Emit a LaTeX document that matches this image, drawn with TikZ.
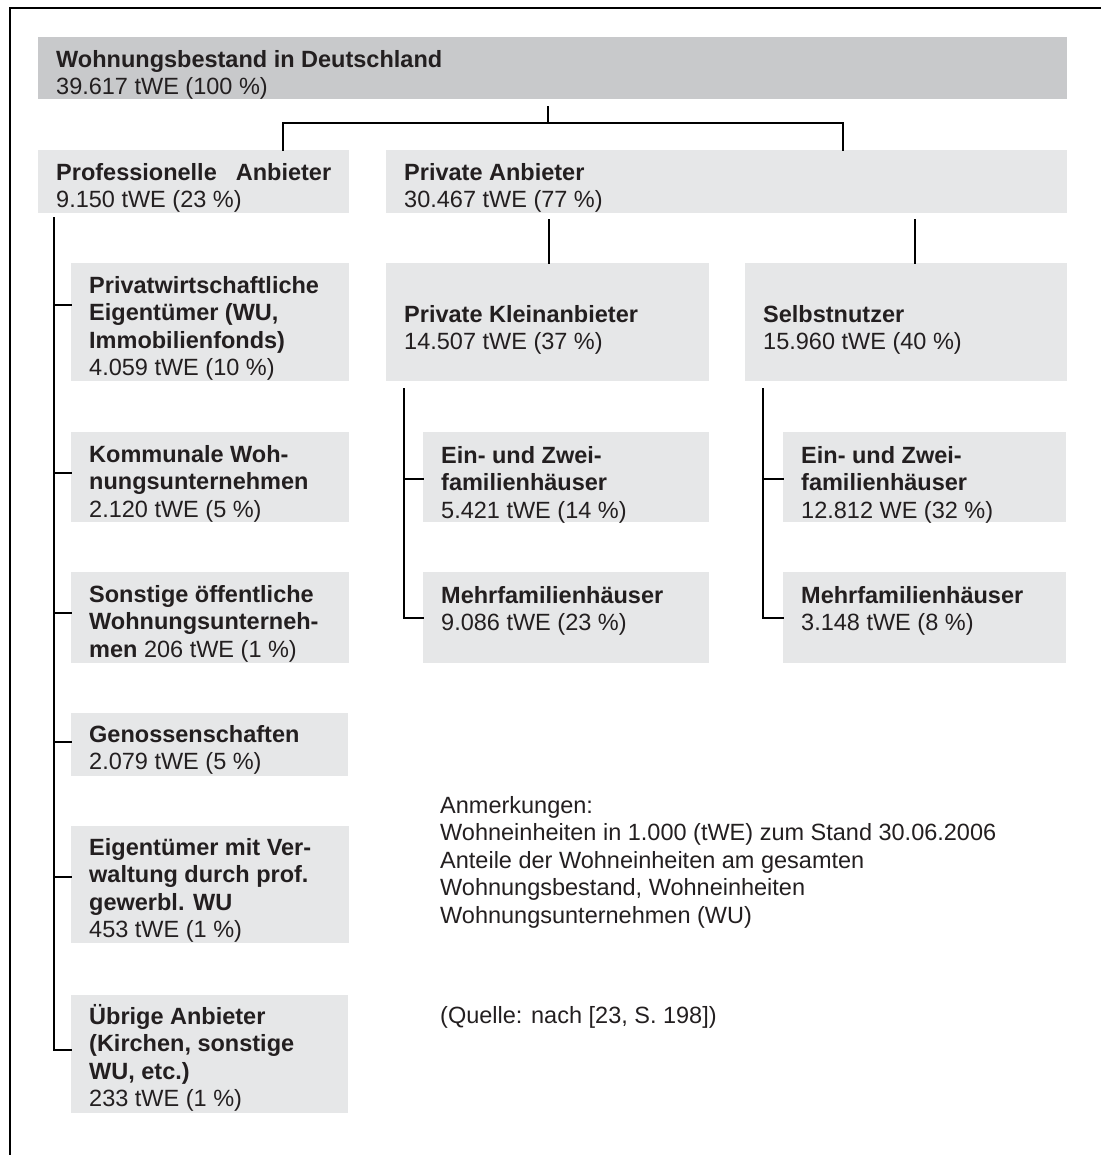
\documentclass[tikz,border=0pt]{standalone}
\usepackage{fontspec}
\setmainfont{Liberation Sans}
\definecolor{boxdark}{RGB}{200,201,203}
\definecolor{boxlight}{RGB}{230,231,232}
\definecolor{txtgray}{RGB}{35,31,32}
\usetikzlibrary{positioning, calc}
\newcommand{\entry}[4]{%
	\hspace*{18pt}\parbox[c][#2pt][t]{\dimexpr #1pt-18pt\relax}{\raggedright\rule{0pt}{#3pt}#4}%
}

\begin{document}
\begin{tikzpicture}[x=1pt, y=-1pt, every node/.append style={inner sep=0pt, anchor=north west, text=txtgray, font=\fontsize{23.5pt}{27.5pt}\selectfont}, entrybox/.style={fill=boxlight}, conn/.style={draw=black, line width=1.6pt, line cap=rect}]
	\useasboundingbox (0,0) rectangle (1101,1155);
	\draw[line width=1.3pt] (10,1155) -- (10,8) -- (1101,8);
	\node[fill=boxdark] (bestand) at (38,37) {\entry{1029}{62}{30}{\textbf{Wohnungsbestand in Deutschland}\\39.617 tWE (100 \%)}};
	\node[entrybox] (prof) at (38,150) {\entry{311}{63}{30}{\textbf{Professionelle\hspace{19pt}Anbieter}\\9.150 tWE (23 \%)}};
	\node[entrybox] (priv) at (386,150) {\entry{681}{63}{30}{\textbf{Private Anbieter}\\30.467 tWE (77 \%)}};
	\node[entrybox] (pw) at (71,263) {\entry{278}{118}{30}{\textbf{Privatwirtschaftliche\\Eigentümer (WU,\\Immobilienfonds)}\\4.059 tWE (10 \%)}};
	\node[entrybox] (kom) at (71,432) {\entry{278}{90}{30}{\textbf{Kommunale Woh-\\nungsunternehmen}\\2.120 tWE (5 \%)}};
	\node[entrybox] (son) at (71,572) {\entry{278}{91}{30}{\textbf{Sonstige öffentliche\\Wohnungsunterneh-\\men} 206 tWE (1 \%)}};
	\node[entrybox] (gen) at (71,713) {\entry{277}{63}{29}{\textbf{Genossenschaften}\\2.079 tWE (5 \%)}};
	\node[entrybox] (eig) at (71,826) {\entry{278}{117}{29}{\textbf{Eigentümer mit Ver-\\waltung durch prof.\\gewerbl. WU}\\453 tWE (1 \%)}};
	\node[entrybox] (ueb) at (71,995) {\entry{277}{118}{29}{\textbf{Übrige Anbieter\\(Kirchen, sonstige\\WU, etc.)}\\233 tWE (1 \%)}};
	\node[entrybox] (klein) at (386,263) {\entry{323}{118}{59}{\textbf{Private Kleinanbieter}\\14.507 tWE (37 \%)}};
	\node[entrybox] (selbst) at (745,263) {\entry{322}{118}{59}{\textbf{Selbstnutzer}\\15.960 tWE (40 \%)}};
	\node[entrybox] (ein1) at (423,432) {\entry{286}{90}{31}{\textbf{Ein- und Zwei-\\familienhäuser}\\5.421 tWE (14 \%)}};
	\node[entrybox] (mehr1) at (423,572) {\entry{286}{91}{31}{\textbf{Mehrfamilienhäuser}\\9.086 tWE (23 \%)}};
	\node[entrybox] (ein2) at (783,432) {\entry{283}{90}{31}{\textbf{Ein- und Zwei-\\familienhäuser}\\12.812 WE (32 \%)}};
	\node[entrybox] (mehr2) at (783,572) {\entry{283}{91}{31}{\textbf{Mehrfamilienhäuser}\\3.148 tWE (8 \%)}};
	\node (notes) at (440,793) {\parbox[t]{640pt}{\rule{0pt}{20pt}Anmerkungen:\\Wohneinheiten in 1.000 (tWE) zum Stand 30.06.2006\\Anteile der Wohneinheiten am gesamten\\Wohnungsbestand, Wohneinheiten\\Wohnungsunternehmen (WU)}};
	\node (quelle) at (440,1003) {\rule{0pt}{20pt}(Quelle: nach [23, S. 198])};
	\coordinate (t0) at (548,107);
	\coordinate (busL) at (283,123);
	\coordinate (busR) at (843,123);
	\draw[conn] (t0) -- (t0 |- busL);
	\draw[conn] (busL |- prof.north) -- (busL) -- (busR) -- (busR |- priv.north);
	\coordinate (k0) at (549,220);
	\coordinate (s0) at (915,220);
	\draw[conn] (k0) -- (k0 |- klein.north);
	\draw[conn] (s0) -- (s0 |- selbst.north);
	\coordinate (p0) at (54,218);
	\foreach \n/\y in {pw/305, kom/473, son/613, gen/742, eig/877, ueb/1050} {
		\coordinate (p-\n) at (54,\y);
		\draw[conn] (p-\n) -- (p-\n -| \n.west);
	}
	\draw[conn] (p0) -- (p-ueb);
	\foreach \br/\x/\a/\b in {kl/404/ein1/mehr1, sb/763/ein2/mehr2} {
		\coordinate (\br-0) at (\x,389);
		\coordinate (\br-1) at (\x,479);
		\coordinate (\br-2) at (\x,618);
		\draw[conn] (\br-0) -- (\br-2) -- (\br-2 -| \b.west);
		\draw[conn] (\br-1) -- (\br-1 -| \a.west);
	}
\end{tikzpicture}
\end{document}
